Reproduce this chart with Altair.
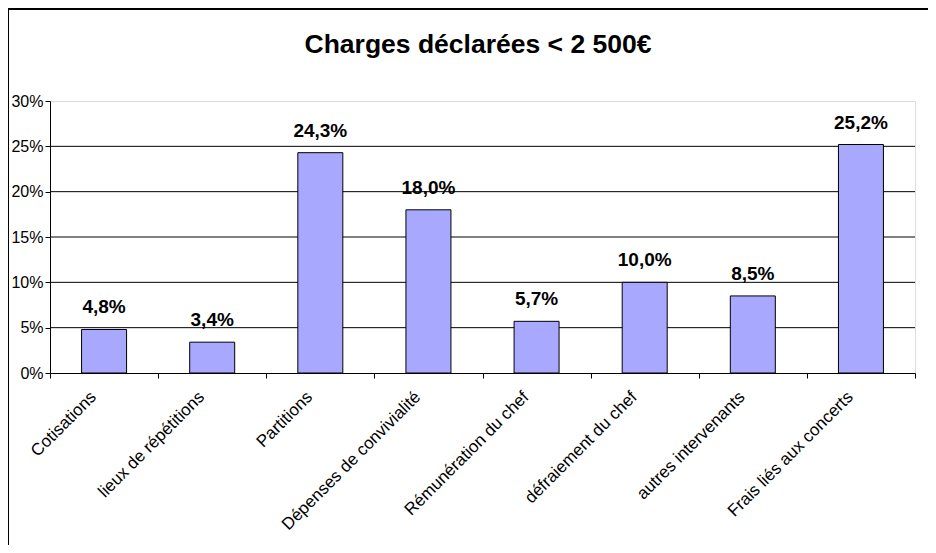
import altair as alt
import pandas as pd

categories = [
    "Cotisations",
    "lieux de répétitions",
    "Partitions",
    "Dépenses de convivialité",
    "Rémunération du chef",
    "défraiement du chef",
    "autres intervenants",
    "Frais liés aux concerts",
]
values = [4.8, 3.4, 24.3, 18.0, 5.7, 10.0, 8.5, 25.2]
y_ticks = [0, 5, 10, 15, 20, 25, 30]
grid_values = [5, 10, 15, 20, 25]
title_text = "Charges déclarées < 2 500€"

df = pd.DataFrame({
    "cat": categories,
    "val": values,
    "label": [f"{v:.1f}".replace(".", ",") + "%" for v in values],
})
grid_df = pd.DataFrame({"g": grid_values})
title_df = pd.DataFrame({"t": [title_text]})

FONT = "Liberation Sans"

x_enc = alt.X(
    "cat:N",
    sort=categories,
    scale=alt.Scale(paddingInner=0, paddingOuter=0),
    axis=alt.Axis(
        title=None,
        labelAngle=-45,
        labelAlign="right",
        labelBaseline="middle",
        labelFont=FONT,
        labelFontSize=17,
        labelColor="black",
        labelPadding=16,
        labelOffset=-11,
        tickBand="extent",
        tickColor="black",
        tickSize=5,
        domainColor="black",
        labelLimit=400,
    ),
)
y_scale = alt.Scale(domain=[0, 30], nice=False)
y_enc = alt.Y(
    "val:Q",
    scale=y_scale,
    axis=alt.Axis(
        title=None,
        values=y_ticks,
        labelExpr="datum.value + '%'",
        labelFont=FONT,
        labelFontSize=16,
        labelColor="black",
        labelPadding=2,
        tickColor="black",
        tickSize=5,
        domainColor="black",
        grid=False,
    ),
)

grid = alt.Chart(grid_df).mark_rule(color="black", strokeWidth=1).encode(
    y=alt.Y("g:Q", scale=y_scale)
)

bars = alt.Chart(df).mark_bar(
    width=45, fill="#A8A8FF", stroke="black", strokeWidth=1
).encode(x=x_enc, y=y_enc)

labels = alt.Chart(df).mark_text(
    font=FONT, fontSize=19, fontWeight="bold", color="black",
    baseline="alphabetic", dy=-16,
).encode(x=alt.X("cat:N", sort=categories), y=alt.Y("val:Q", scale=y_scale), text="label:N")

title = alt.Chart(title_df).mark_text(
    font=FONT, fontSize=26.5, fontWeight="bold", color="black",
    align="center", baseline="alphabetic",
).encode(text="t:N", x=alt.value(428), y=alt.value(-48))

frame_left = alt.Chart(title_df).mark_rule(color="black", strokeWidth=2).encode(
    x=alt.value(-42), y=alt.value(-92), y2=alt.value(460)
)
frame_top = alt.Chart(title_df).mark_rule(color="black", strokeWidth=2).encode(
    x=alt.value(-42), x2=alt.value(900), y=alt.value(-92)
)

chart = alt.layer(grid, bars, labels, title, frame_left, frame_top).properties(
    width=865,
    height=272,
    padding={"left": 42, "top": 93, "right": 13, "bottom": 172},
    autosize=alt.AutoSizeParams(type="none"),
).configure_view(
    fill="#C0C0C0", stroke="#999999", strokeWidth=1
).configure(background="white")

chart.save("out.html", embed_options={"renderer": "svg", "actions": False})
